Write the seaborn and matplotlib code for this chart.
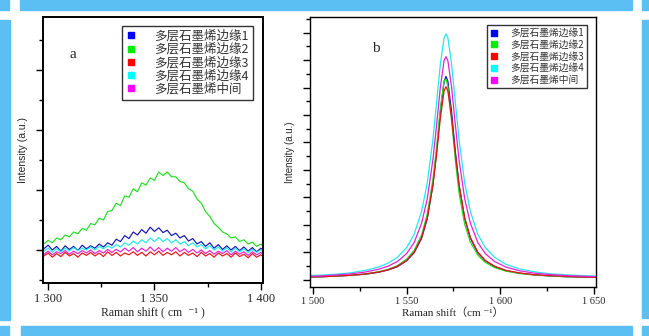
import numpy as np
import pandas as pd
import matplotlib
matplotlib.use("Agg")
import matplotlib.pyplot as plt
from matplotlib.lines import Line2D
from matplotlib.patches import Rectangle
from matplotlib.ticker import FixedLocator, FixedFormatter
import seaborn as sns

sns.set_theme(style="white")
plt.rcParams['font.family'] = ['Liberation Serif', 'Noto Sans CJK SC', 'DejaVu Sans']

# ---------------- data ----------------
labels = ["多层石墨烯边缘1", "多层石墨烯边缘2", "多层石墨烯边缘3", "多层石墨烯边缘4", "多层石墨烯中间"]

# panel a
shift_a = list(range(1298, 1403, 2))
a_edge1 = [0.02, 0.08, 0.00, 0.06, -0.02, 0.07, 0.01, 0.06, -0.01, 0.08, 0.02, 0.07, 0.03, 0.10, 0.05,
           0.12, 0.08, 0.18, 0.14, 0.24, 0.19, 0.30, 0.25, 0.34, 0.28, 0.38, 0.31, 0.37, 0.29, 0.33,
           0.24, 0.28, 0.20, 0.24, 0.15, 0.19, 0.10, 0.14, 0.06, 0.12, 0.03, 0.09, 0.01, 0.07, 0.00,
           0.06, -0.01, 0.05, -0.02, 0.04, -0.03, 0.03, -0.02]
a_edge2 = [0.10, 0.16, 0.12, 0.20, 0.17, 0.25, 0.22, 0.30, 0.27, 0.36, 0.33, 0.44, 0.42, 0.53, 0.50,
           0.64, 0.66, 0.78, 0.74, 0.90, 0.88, 1.02, 0.97, 1.12, 1.08, 1.20, 1.16, 1.30, 1.24, 1.30,
           1.22, 1.22, 1.14, 1.12, 1.02, 0.98, 0.85, 0.78, 0.64, 0.56, 0.44, 0.38, 0.30, 0.27, 0.20,
           0.22, 0.14, 0.17, 0.10, 0.13, 0.06, 0.10, 0.04]
a_edge3 = [-0.10, -0.05, -0.12, -0.06, -0.11, -0.04, -0.10, -0.06, -0.12, -0.05, -0.09, -0.04, -0.10,
           -0.05, -0.11, -0.03, -0.09, -0.04, -0.10, -0.05, -0.08, -0.03, -0.09, -0.04, -0.10, -0.03,
           -0.08, -0.02, -0.09, -0.04, -0.08, -0.03, -0.10, -0.04, -0.09, -0.05, -0.11, -0.04, -0.10,
           -0.06, -0.12, -0.05, -0.10, -0.06, -0.12, -0.05, -0.11, -0.07, -0.13, -0.06, -0.12, -0.08, -0.15]
a_edge4 = [-0.02, 0.03, -0.04, 0.02, -0.03, 0.03, -0.02, 0.04, -0.01, 0.03, 0.00, 0.05, 0.00, 0.06, 0.02,
           0.07, 0.03, 0.09, 0.05, 0.12, 0.08, 0.15, 0.10, 0.17, 0.12, 0.20, 0.14, 0.21, 0.14, 0.19,
           0.12, 0.17, 0.10, 0.14, 0.07, 0.12, 0.05, 0.09, 0.02, 0.07, 0.00, 0.05, -0.02, 0.04, -0.03,
           0.03, -0.03, 0.02, -0.04, 0.01, -0.04, 0.00, -0.05]
a_middle = [-0.07, -0.02, -0.08, -0.03, -0.06, -0.01, -0.07, -0.02, -0.06, -0.01, -0.05, 0.00, -0.06,
            -0.01, -0.05, 0.01, -0.04, 0.01, -0.03, 0.03, -0.02, 0.04, -0.03, 0.03, -0.02, 0.05, -0.02,
            0.04, -0.03, 0.03, -0.02, 0.04, -0.03, 0.02, -0.04, 0.01, -0.05, 0.00, -0.06, -0.01, -0.07,
            -0.02, -0.06, -0.01, -0.08, -0.02, -0.07, -0.03, -0.09, -0.03, -0.08, -0.04, -0.10]

# panel b
shift_b = [1498, 1505, 1512, 1520, 1528, 1535, 1540, 1545, 1550, 1554, 1558, 1561, 1564, 1566, 1568,
           1570, 1571, 1572, 1574, 1576, 1578, 1581, 1584, 1588, 1592, 1597, 1603, 1610, 1618, 1626,
           1635, 1643, 1651]
b_edge1 = [0.11, 0.12, 0.14, 0.17, 0.21, 0.28, 0.36, 0.48, 0.70, 0.99, 1.52, 2.23, 3.45, 4.67, 6.11,
           7.23, 7.40, 7.23, 6.11, 4.67, 3.45, 2.23, 1.52, 0.99, 0.70, 0.48, 0.34, 0.25, 0.19, 0.15,
           0.12, 0.11, 0.10]
b_edge2 = [0.11, 0.12, 0.14, 0.17, 0.22, 0.30, 0.38, 0.52, 0.76, 1.08, 1.64, 2.40, 3.65, 4.85, 6.25,
           7.25, 7.30, 7.05, 5.80, 4.35, 3.15, 2.02, 1.38, 0.90, 0.64, 0.45, 0.32, 0.24, 0.18, 0.15,
           0.12, 0.11, 0.10]
b_edge3 = [0.11, 0.12, 0.14, 0.17, 0.22, 0.29, 0.37, 0.50, 0.71, 1.01, 1.55, 2.26, 3.44, 4.58, 5.89,
           6.88, 7.03, 6.88, 5.89, 4.58, 3.44, 2.26, 1.55, 1.01, 0.71, 0.50, 0.35, 0.26, 0.19, 0.16,
           0.13, 0.11, 0.10]
b_edge4 = [0.16, 0.18, 0.21, 0.26, 0.35, 0.47, 0.61, 0.82, 1.18, 1.66, 2.50, 3.52, 5.09, 6.45, 7.85,
           8.81, 8.95, 8.81, 7.85, 6.45, 5.09, 3.52, 2.50, 1.66, 1.18, 0.82, 0.57, 0.41, 0.30, 0.23,
           0.19, 0.16, 0.14]
b_middle = [0.13, 0.15, 0.18, 0.22, 0.29, 0.39, 0.50, 0.67, 0.96, 1.36, 2.07, 2.95, 4.36, 5.64, 7.01,
            7.98, 8.12, 7.98, 7.01, 5.64, 4.36, 2.95, 2.07, 1.36, 0.96, 0.67, 0.47, 0.34, 0.25, 0.20,
            0.16, 0.14, 0.12]

line_colors = ["#1414b4", "#22dd22", "#e81414", "#22e8ee", "#e81ed2"]
legend_colors = ["#0000ff", "#00ee00", "#ff0000", "#00ffff", "#ff00ff"]

df_a = pd.concat([pd.DataFrame({"shift": shift_a, "intensity": v, "sample": lab})
                  for v, lab in zip([a_edge1, a_edge2, a_edge3, a_edge4, a_middle], labels)])
df_b = pd.concat([pd.DataFrame({"shift": shift_b, "intensity": v, "sample": lab})
                  for v, lab in zip([b_edge1, b_edge2, b_edge3, b_edge4, b_middle], labels)])

W, H = 649, 336
fig = plt.figure(figsize=(W / 100, H / 100), dpi=100)
fig.patch.set_facecolor("white")

# decorative light-blue frame
frame_c = "#5cbff3"
def px_rect(x0, y0, x1, y1):
    fig.patches.append(Rectangle((x0 / W, 1 - y1 / H), (x1 - x0) / W, (y1 - y0) / H,
                                 transform=fig.transFigure, color=frame_c, zorder=0))
px_rect(20, 0, 632, 10)
px_rect(0, 0, 9, 10)
px_rect(642, 0, 649, 10)
px_rect(0, 20, 10, 320)
px_rect(642, 20, 649, 318)
px_rect(21, 326, 632, 336)
px_rect(0, 326, 9, 336)
px_rect(642, 326, 649, 336)

pal = dict(zip(labels, line_colors))
fallback = ["Liberation Serif", "Noto Sans CJK SC", "DejaVu Sans"]

# ---------------- panel a ----------------
ax1 = fig.add_axes([43 / W, 1 - 283 / H, 220 / W, 266 / H])
sns.lineplot(data=df_a, x="shift", y="intensity", hue="sample", palette=pal, ax=ax1,
             legend=False, estimator=None, sort=False, linewidth=0.85)
ax1.set_xlim(1297.6, 1401.0)
ax1.set_ylim(-0.55, 3.883)
ax1.xaxis.set_major_locator(FixedLocator([1300, 1350, 1400]))
ax1.xaxis.set_major_formatter(FixedFormatter(["1 300", "1 350", "1 400"]))
ax1.xaxis.set_minor_locator(FixedLocator([1325, 1375]))
ax1.yaxis.set_major_locator(FixedLocator([0, 1, 2, 3]))
ax1.yaxis.set_minor_locator(FixedLocator([-0.5, 0.5, 1.5, 2.5, 3.5]))
ax1.set_yticklabels([])
ax1.tick_params(axis="both", which="major", direction="out", length=5, width=1.0, color="black",
                left=True, bottom=True, labelsize=9, pad=2)
ax1.tick_params(axis="both", which="minor", direction="out", length=3, width=1.0, color="black",
                left=True, bottom=True)
for s in ax1.spines.values():
    s.set_color("black")
    s.set_linewidth(1.4)
ax1.set_xlabel("Raman shift ( cm  ⁻¹ )", fontsize=8.5, labelpad=1, family=fallback)
ax1.set_ylabel("Intensity (a.u.)", fontsize=7.5, family=["Liberation Sans"], labelpad=4)
ax1.text(0.135, 0.86, "a", transform=ax1.transAxes, fontsize=11, ha="center", va="center")

handles = [Line2D([], [], marker="s", linestyle="", color=c, markersize=5) for c in legend_colors]
leg1 = fig.legend(handles, labels, loc="upper left", bbox_to_anchor=(122 / W, 1 - 26 / H),
                  prop={"family": ["Noto Sans CJK SC"], "size": 9}, frameon=True, fancybox=False,
                  edgecolor="black", handlelength=0.8, handletextpad=1.5, labelspacing=0.02,
                  borderpad=0.3, borderaxespad=0)
leg1.get_frame().set_linewidth(1.0)
for t in leg1.get_texts():
    t.set_color("#333333")

# ---------------- panel b ----------------
ax2 = fig.add_axes([310 / W, 1 - 287 / H, 286 / W, 270 / H])
sns.lineplot(data=df_b, x="shift", y="intensity", hue="sample", palette=pal, ax=ax2,
             legend=False, estimator=None, sort=False, linewidth=0.9)
ax2.set_xlim(1498.4, 1651.1)
ax2.set_ylim(-0.255, 9.564)
ax2.xaxis.set_major_locator(FixedLocator([1500, 1550, 1600, 1650]))
ax2.xaxis.set_major_formatter(FixedFormatter(["1 500", "1 550", "1 600", "1 650"]))
ax2.xaxis.set_minor_locator(FixedLocator([1525, 1575, 1625]))
ax2.yaxis.set_major_locator(FixedLocator(list(range(0, 10))))
ax2.yaxis.set_minor_locator(FixedLocator([k + 0.5 for k in range(0, 10)]))
ax2.set_yticklabels([])
ax2.tick_params(axis="both", which="major", direction="out", length=5, width=1.0, color="black",
                left=True, bottom=True, labelsize=7.5, pad=2)
ax2.tick_params(axis="both", which="minor", direction="out", length=3, width=1.0, color="black",
                left=True, bottom=True)
for s in ax2.spines.values():
    s.set_color("black")
    s.set_linewidth(1.0)
ax2.set_xlabel("Raman shift（cm ⁻¹）", fontsize=8, labelpad=1, family=fallback)
ax2.set_ylabel("Intensity (a.u.)", fontsize=7, family=["Liberation Sans"], labelpad=4)
ax2.text(0.23, 0.885, "b", transform=ax2.transAxes, fontsize=11, ha="center", va="center")

leg2 = fig.legend(handles, labels, loc="upper left", bbox_to_anchor=(487 / W, 1 - 25 / H),
                  prop={"family": ["Noto Sans CJK SC"], "size": 7}, frameon=True, fancybox=False,
                  edgecolor="black", handlelength=0.8, handletextpad=1.3, labelspacing=0.18,
                  borderpad=0.3, borderaxespad=0)
leg2.get_frame().set_linewidth(1.0)
for t in leg2.get_texts():
    t.set_color("#333333")

fig.savefig("out.png", dpi=100)
